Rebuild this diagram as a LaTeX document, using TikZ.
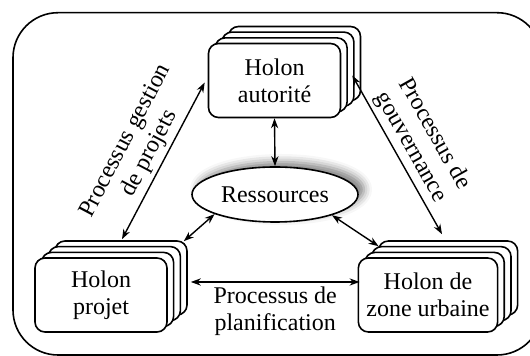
\documentclass[tikz,border=0pt]{standalone}
\usepackage{fontspec}
\setmainfont{Liberation Serif}
\usetikzlibrary{arrows.meta, shapes.geometric, shadows, shadows.blur}

\begin{document}
\begin{tikzpicture}[
    x=0.5pt, y=-0.5pt,
    >={Stealth[length=5pt, width=3.6pt]},
    holon/.style={font=\fontsize{12}{13.5}\selectfont, draw, thick, fill=white, rounded corners=5pt, align=center, minimum width=66pt, minimum height=37pt, inner sep=4pt,
      copy shadow={shadow xshift=10pt, shadow yshift=8.5pt},
      copy shadow={shadow xshift=6.7pt, shadow yshift=5.7pt},
      copy shadow={shadow xshift=3.3pt, shadow yshift=2.8pt}},
    resource/.style={font=\fontsize{12}{13.5}\selectfont, ellipse, draw, thick, fill=white, minimum width=83pt, minimum height=27.5pt, inner sep=0pt,
      blur shadow={shadow xshift=3pt, shadow yshift=2.5pt, shadow blur radius=4pt, shadow opacity=50}},
    flow/.style={<->, line width=0.7pt},
    lbl/.style={font=\fontsize{12}{13.5}\selectfont, align=center, inner sep=2pt}
]

  \useasboundingbox (0,0) rectangle (530,356);

  % Outer frame
  \draw[thick, rounded corners=22.5pt] (13,12.7) rectangle (542,355);

  % Holons and the shared resources
  \node[holon] (auth) at (274.5,80.5) {Holon\\autorité};
  \node[holon] (projet) at (101,295) {Holon\\projet};
  \node[holon] (zone) at (428,295) {Holon de\\zone urbaine};
  \node[resource] (ress) at (275,194.5) {Ressources};

  % Links to the resources
  \draw[flow] (auth.south) -- (ress.north);
  \draw[flow] (ress.198) -- ([shift={(16,-16)}]projet.north east);
  \draw[flow] (ress.-20) -- ([shift={(21,-11)}]zone.north west);

  % Processes between holons
  \draw[flow] ([shift={(21,-18)}]projet.north) -- node[lbl, sloped, above] {Processus gestion\\de projets} ([shift={(-3,2)}]auth.west);
  \draw[flow] ([shift={(11,-5)}]auth.east) -- node[lbl, sloped, above] {Processus de\\gouvernance} ([shift={(14,-23)}]zone.north);
  \draw[flow] ([shift={(23,-13)}]projet.east) -- node[lbl, below] {Processus de\\planification} ([shift={(2,-13)}]zone.west);

\end{tikzpicture}
\end{document}
